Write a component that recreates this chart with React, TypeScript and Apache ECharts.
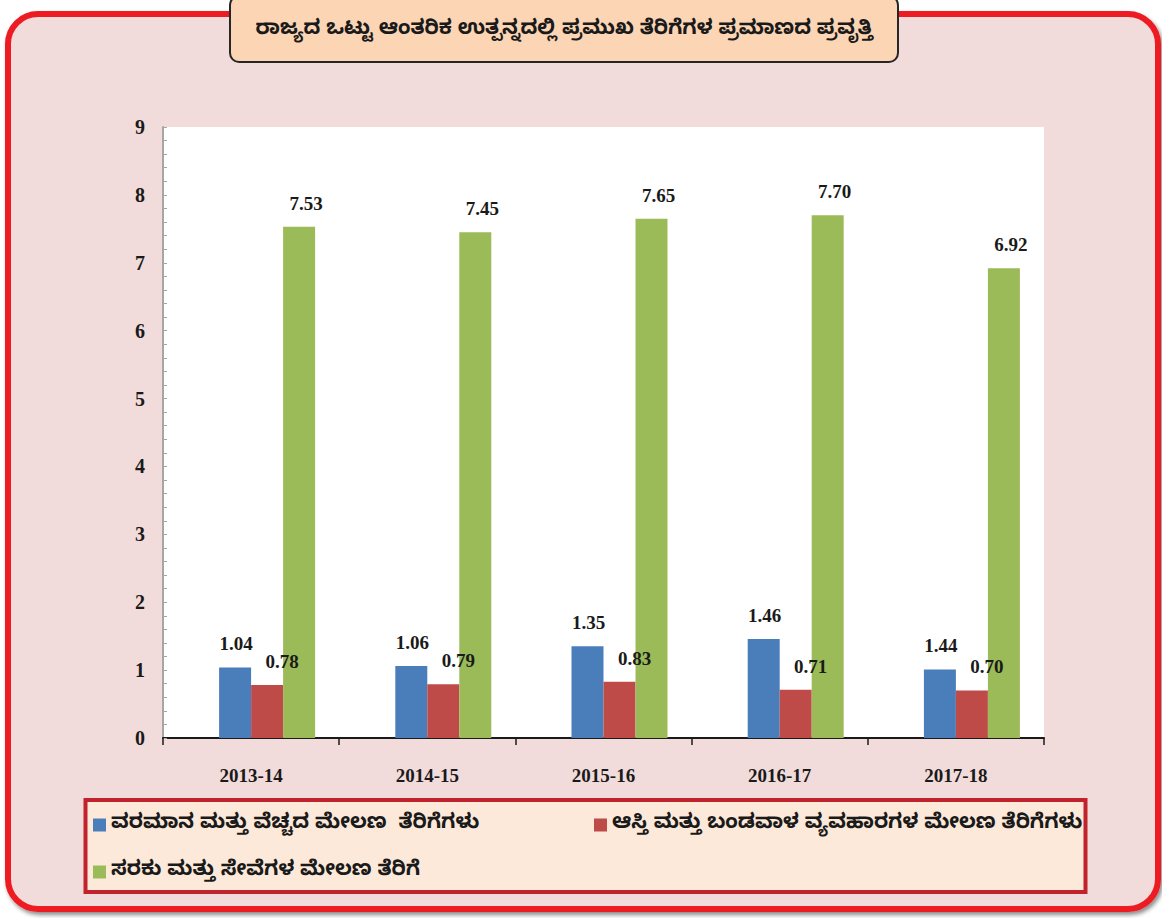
import React, { useEffect, useRef } from "react";
import * as echarts from "echarts";

const categories = ["2013-14", "2014-15", "2015-16", "2016-17", "2017-18"];
const incomeValues = [1.04, 1.06, 1.35, 1.46, 1.01];
const incomeLabels = ["1.04", "1.06", "1.35", "1.46", "1.44"];
const propertyValues = [0.78, 0.79, 0.83, 0.71, 0.7];
const propertyLabels = ["0.78", "0.79", "0.83", "0.71", "0.70"];
const goodsValues = [7.53, 7.45, 7.65, 7.7, 6.92];
const goodsLabels = ["7.53", "7.45", "7.65", "7.70", "6.92"];
const seriesNames = [
  "ವರಮಾನ ಮತ್ತು ವೆಚ್ಚದ ಮೇಲಣ  ತೆರಿಗೆಗಳು",
  "ಆಸ್ತಿ ಮತ್ತು ಬಂಡವಾಳ ವ್ಯವಹಾರಗಳ ಮೇಲಣ ತೆರಿಗೆಗಳು",
  "ಸರಕು ಮತ್ತು ಸೇವೆಗಳ ಮೇಲಣ ತೆರಿಗೆ",
];
const titleText = "ರಾಜ್ಯದ ಒಟ್ಟು ಆಂತರಿಕ ಉತ್ಪನ್ನದಲ್ಲಿ ಪ್ರಮುಖ ತೆರಿಗೆಗಳ ಪ್ರಮಾಣದ ಪ್ರವೃತ್ತಿ";
const yTicks = [0, 1, 2, 3, 4, 5, 6, 7, 8, 9];

const SERIF = "'Liberation Serif', 'Times New Roman', serif";
const KANNADA = "'Noto Sans Kannada', 'Noto Serif Kannada', 'Lohit Kannada', 'Tunga', 'Noto Sans', sans-serif";

export default function App() {
  const ref = useRef<HTMLDivElement>(null);
  useEffect(() => {
    if (!ref.current) return;
    const chart = echarts.init(ref.current, undefined, { renderer: "svg" });
    const mkLabel = (labels: string[], dx: number) => ({
      show: true,
      position: "top",
      distance: 14,
      offset: [dx, 0],
      fontFamily: SERIF,
      fontWeight: "bold",
      fontSize: 19,
      color: "#1a1a1a",
      formatter: (p: any) => labels[p.dataIndex],
    });
    chart.setOption({
      animation: false,
      backgroundColor: "#ffffff",
      graphic: [
        {
          type: "rect",
          shape: { x: 8, y: 14, width: 1150, height: 895, r: 30 },
          style: {
            fill: "#f2dcdb",
            stroke: "#ed1c24",
            lineWidth: 6,
            shadowBlur: 4,
            shadowOffsetX: 2,
            shadowOffsetY: 3,
            shadowColor: "rgba(0,0,0,0.45)",
          },
          z: -10,
        },
        {
          type: "rect",
          shape: { x: 230, y: -4, width: 668, height: 66, r: 9 },
          style: { fill: "#fcd5b5", stroke: "#262626", lineWidth: 2 },
          z: 5,
        },
        {
          type: "text",
          x: 564,
          y: 31,
          style: {
            text: titleText,
            fill: "#1a1a1a",
            fontFamily: KANNADA,
            fontWeight: "bold",
            fontSize: 20.5,
            align: "center",
            verticalAlign: "middle",
          },
          z: 6,
        },
        {
          type: "rect",
          shape: { x: 85.5, y: 800, width: 1000, height: 92 },
          style: { fill: "#fde9d9", stroke: "#c0232b", lineWidth: 4 },
          z: -5,
        },
      ],
      grid: {
        left: 163,
        top: 127,
        right: 118,
        bottom: 180,
        show: true,
        backgroundColor: "#ffffff",
        borderWidth: 0,
      },
      legend: {
        data: seriesNames,
        left: 93,
        top: 812,
        width: 1000,
        padding: 0,
        itemWidth: 13,
        itemHeight: 13,
        itemGap: 21,
        icon: "rect",
        textStyle: {
          fontFamily: KANNADA,
          fontWeight: "bold",
          fontSize: 20.5,
          color: "#1a1a1a",
          width: 462,
          lineHeight: 26,
        },
      },
      xAxis: {
        type: "category",
        data: categories,
        axisLine: { lineStyle: { color: "#1a1a1a", width: 2 } },
        axisTick: { show: true, length: 7, lineStyle: { color: "#1a1a1a", width: 1.5 } },
        axisLabel: {
          margin: 28,
          fontFamily: SERIF,
          fontWeight: "bold",
          fontSize: 19,
          color: "#1a1a1a",
        },
        splitLine: { show: false },
      },
      yAxis: {
        type: "value",
        min: yTicks[0],
        max: yTicks[yTicks.length - 1],
        interval: 1,
        axisLine: { show: true, lineStyle: { color: "#a6a6a6", width: 2 } },
        axisTick: { show: true, inside: true, length: 4, lineStyle: { color: "#a6a6a6" } },
        minorTick: { show: true, splitNumber: 5, length: 4, lineStyle: { color: "#a6a6a6" } },
        axisLabel: {
          margin: 18,
          fontFamily: SERIF,
          fontWeight: "bold",
          fontSize: 20,
          color: "#1a1a1a",
        },
        splitLine: { show: false },
      },
      series: [
        {
          name: "",
          type: "bar",
          data: categories.map(() => null),
          barWidth: 32,
          barGap: "0%",
          silent: true,
        },
        {
          name: seriesNames[0],
          type: "bar",
          data: incomeValues,
          barWidth: 32,
          barGap: "0%",
          itemStyle: { color: "#4a7ebb" },
          label: mkLabel(incomeLabels, 1),
        },
        {
          name: seriesNames[1],
          type: "bar",
          data: propertyValues,
          barWidth: 32,
          barGap: "0%",
          itemStyle: { color: "#be4b48" },
          label: mkLabel(propertyLabels, 15),
        },
        {
          name: seriesNames[2],
          type: "bar",
          data: goodsValues,
          barWidth: 32,
          barGap: "0%",
          itemStyle: { color: "#9bbb59" },
          label: mkLabel(goodsLabels, 7),
        },
      ],
    });
    return () => chart.dispose();
  }, []);
  return (
    <div
      ref={ref}
      style={{ position: "fixed", left: 0, top: 0, width: 1162, height: 918 }}
    />
  );
}
